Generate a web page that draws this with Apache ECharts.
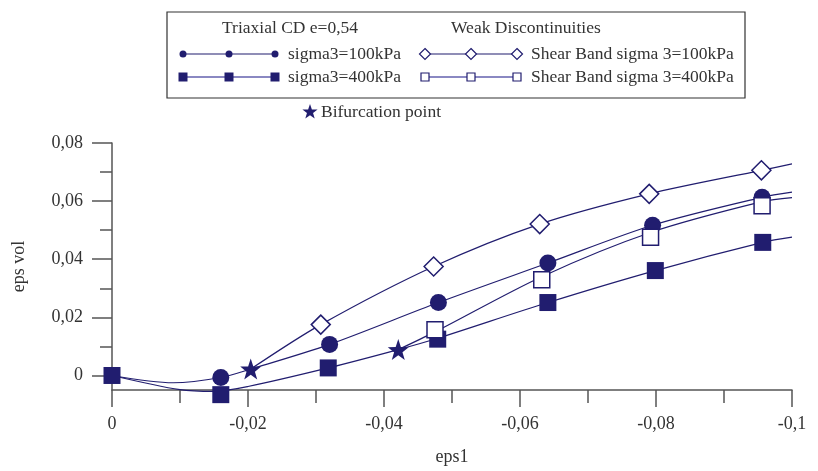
<!DOCTYPE html>
<html>
<head>
<meta charset="utf-8">
<script src="https://cdn.jsdelivr.net/npm/echarts@6/dist/echarts.min.js"></script>
<style>
  html, body { margin: 0; padding: 0; background: #fff; }
  #main { width: 818px; height: 471px; }
</style>
</head>
<body>
<div id="main"></div>
<script>
// x = eps1, y = eps vol
var curve100 = [[0, 0], [-0.009, -0.0025], [-0.016, -0.0007], [-0.0204, 0.0022], [-0.032, 0.0107], [-0.048, 0.0251],
  [-0.0641, 0.0387], [-0.0795, 0.0517], [-0.0956, 0.0613], [-0.1, 0.0631]];
var curve400 = [[0, 0], [-0.01, -0.0049], [-0.015, -0.0055], [-0.02, -0.0038], [-0.0318, 0.0026], [-0.0421, 0.0089],
  [-0.0479, 0.0128], [-0.0641, 0.0251], [-0.0799, 0.0361], [-0.0957, 0.0458], [-0.1, 0.0476]];
var curveSB100 = [[-0.0204, 0.0022], [-0.0307, 0.0175], [-0.0473, 0.0375], [-0.0629, 0.0521], [-0.079, 0.0625],
  [-0.0955, 0.0706], [-0.1, 0.0728]];
var curveSB400 = [[-0.0421, 0.0089], [-0.0475, 0.015], [-0.0632, 0.034], [-0.0792, 0.0492], [-0.0956, 0.0598],
  [-0.1, 0.0612]];

var circles100 = [[-0.016, -0.0007], [-0.032, 0.0107], [-0.048, 0.0251], [-0.0641, 0.0387], [-0.0795, 0.0517], [-0.0956, 0.0613]];
var squares400 = [[0, 0], [-0.016, -0.0066], [-0.0318, 0.0026], [-0.0479, 0.0125], [-0.0641, 0.0251], [-0.0799, 0.0361], [-0.0957, 0.0458]];
var diamondsSB100 = [[-0.0307, 0.0175], [-0.0473, 0.0375], [-0.0629, 0.0521], [-0.079, 0.0625], [-0.0955, 0.0706]];
var openSquaresSB400 = [[-0.0475, 0.0157], [-0.0632, 0.0329], [-0.0792, 0.0476], [-0.0956, 0.0584]];
var bifurcation = [[-0.0204, 0.0022], [-0.0421, 0.0089]];

var yMajorTicks = [0, 0.02, 0.04, 0.06, 0.08];
var yMinorTicks = [0.01, 0.03, 0.05, 0.07];

var navy = '#211d6f';
var textColor = '#333';
var axisColor = '#555';
var font = 'Liberation Serif';

function comma(v) {
  var n = +(+v).toFixed(3);
  return n === 0 ? '0' : String(n).replace('.', ',');
}

function starPoints(cx, cy, r) {
  var pts = [];
  for (var i = 0; i < 10; i++) {
    var rr = i % 2 === 0 ? r : r * 0.4;
    var a = -Math.PI / 2 + i * Math.PI / 5;
    pts.push([cx + rr * Math.cos(a), cy + rr * Math.sin(a)]);
  }
  return pts;
}
var starPath = 'path://' + starPoints(10, 10, 10).map(function (p, i) {
  return (i ? 'L' : 'M') + p[0].toFixed(2) + ',' + p[1].toFixed(2);
}).join(' ') + ' Z';

// legend sample: line with three markers
function sample(x0, y, kind, lineColor, lineWidth) {
  var items = [{
    type: 'line', shape: {x1: x0, y1: y, x2: x0 + 92, y2: y},
    style: {stroke: lineColor, lineWidth: lineWidth}
  }];
  [x0, x0 + 46, x0 + 92].forEach(function (x) {
    if (kind === 'circle') {
      items.push({type: 'circle', shape: {cx: x, cy: y, r: 3.5}, style: {fill: navy}});
    } else if (kind === 'square') {
      items.push({type: 'rect', shape: {x: x - 4.5, y: y - 4.5, width: 9, height: 9}, style: {fill: navy}});
    } else if (kind === 'diamond') {
      items.push({type: 'polygon', shape: {points: [[x, y - 5.5], [x + 5.5, y], [x, y + 5.5], [x - 5.5, y]]},
        style: {fill: '#fff', stroke: navy, lineWidth: 1.2}});
    } else {
      items.push({type: 'rect', shape: {x: x - 4, y: y - 4, width: 8, height: 8},
        style: {fill: '#fff', stroke: navy, lineWidth: 1.2}});
    }
  });
  return items;
}

function label(text, x, y) {
  return {type: 'text', x: x, y: y, style: {text: text, fill: textColor, font: '17.5px "' + font + '"', verticalAlign: 'middle'}};
}

var graphic = [
  {type: 'rect', shape: {x: 167, y: 12, width: 578, height: 86}, style: {fill: '#fff', stroke: '#333', lineWidth: 1.2}},
  label('Triaxial CD e=0,54', 222, 28),
  label('Weak Discontinuities', 451, 28),
  label('sigma3=100kPa', 288, 54),
  label('sigma3=400kPa', 288, 77),
  label('Shear Band sigma 3=100kPa', 531, 54),
  label('Shear Band sigma 3=400kPa', 531, 77),
  {type: 'polygon', shape: {points: starPoints(310, 112, 8)}, style: {fill: navy}},
  label('Bifurcation point', 321, 112)
].concat(sample(183, 54, 'circle', navy, 1.2))
  .concat(sample(183, 77, 'square', '#8a88c2', 2))
  .concat(sample(425, 54, 'diamond', navy, 1.2))
  .concat(sample(425, 77, 'openSquare', '#8a88c2', 2));

function lineSeries(data) {
  return {
    type: 'line', data: data, smooth: 0.3, showSymbol: false, silent: true, clip: false,
    lineStyle: {color: navy, width: 1.2}, z: 2
  };
}

function markerSeries(data, symbol, size, open) {
  return {
    type: 'scatter', data: data, symbol: symbol, symbolSize: size, silent: true, clip: false, z: 3,
    itemStyle: open ? {color: '#fff', borderColor: navy, borderWidth: 1.5, opacity: 1} : {color: navy, opacity: 1}
  };
}

var myChart = echarts.init(document.getElementById('main'));
var option = {
  animation: false,
  graphic: graphic,
  grid: {left: 112, right: 26, top: 143, bottom: 81, outerBoundsMode: 'none', containLabel: false},
  xAxis: {
    type: 'value', inverse: true, min: -0.1, max: 0, interval: 0.02,
    name: 'eps1', nameLocation: 'middle', nameGap: 58,
    nameTextStyle: {color: textColor, fontFamily: font, fontSize: 18},
    axisLine: {onZero: false, lineStyle: {color: axisColor, width: 1.5}},
    axisTick: {length: 17, lineStyle: {color: axisColor, width: 1.5}},
    minorTick: {show: true, splitNumber: 2, length: 13, lineStyle: {color: axisColor, width: 1.5}},
    axisLabel: {color: textColor, fontFamily: font, fontSize: 18, margin: 25, formatter: comma},
    splitLine: {show: false}
  },
  yAxis: [{
    type: 'value', min: -0.005, max: 0.08,
    name: 'eps vol', nameLocation: 'middle', nameGap: 84,
    nameTextStyle: {color: textColor, fontFamily: font, fontSize: 18},
    axisLine: {show: true, onZero: false, lineStyle: {color: axisColor, width: 1.5}},
    axisTick: {show: true, length: 20, customValues: yMajorTicks, lineStyle: {color: axisColor, width: 1.5}},
    axisLabel: {color: textColor, fontFamily: font, fontSize: 18, margin: 29, customValues: yMajorTicks, formatter: comma},
    splitLine: {show: false}
  }, {
    type: 'value', min: -0.005, max: 0.08, position: 'left',
    axisLine: {show: false, onZero: false},
    axisTick: {show: true, length: 12, customValues: yMinorTicks, lineStyle: {color: axisColor, width: 1.5}},
    axisLabel: {show: false},
    splitLine: {show: false}
  }],
  series: [
    lineSeries(curve100),
    lineSeries(curve400),
    lineSeries(curveSB100),
    lineSeries(curveSB400),
    markerSeries(circles100, 'circle', 17, false),
    markerSeries(squares400, 'rect', 17, false),
    markerSeries(diamondsSB100, 'diamond', 19, true),
    markerSeries(openSquaresSB400, 'rect', 16, true),
    markerSeries(bifurcation, starPath, 21, false)
  ]
};
myChart.setOption(option);
</script>
</body>
</html>
